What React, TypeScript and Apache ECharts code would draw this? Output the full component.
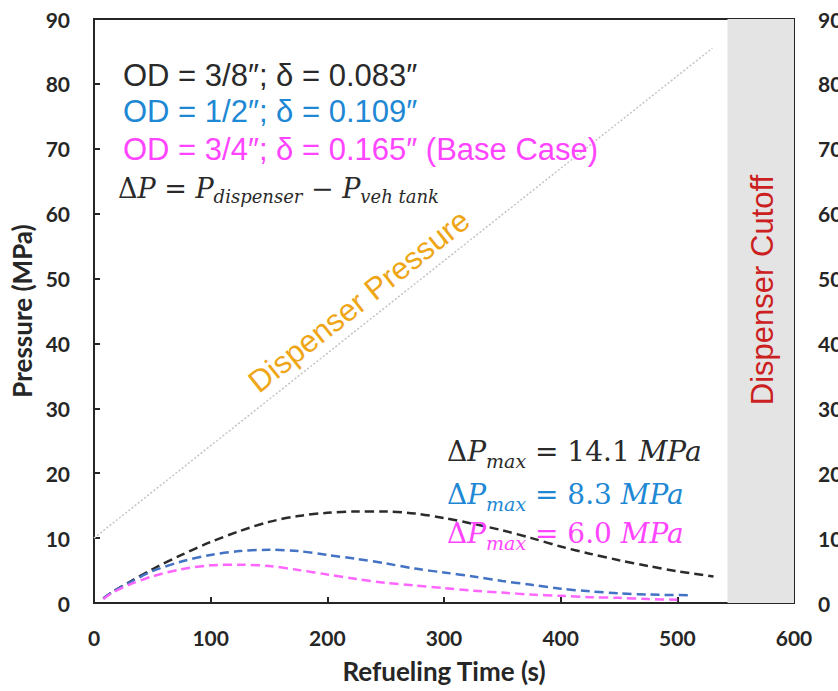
import React, { useEffect, useRef } from "react";
import * as echarts from "echarts";

// ---- data ----
const xTicks = [0, 100, 200, 300, 400, 500, 600];
const yTicks = [0, 10, 20, 30, 40, 50, 60, 70, 80, 90];

const dispenserX = [0, 530];
const dispenserY = [10.0, 85.5];

const od38X = [8, 15, 30, 50, 75, 100, 125, 150, 175, 200, 225, 250, 275, 300, 325, 350, 375, 400, 425, 450, 475, 500, 531];
const od38Y = [0.7, 1.6, 3.2, 5.2, 7.4, 9.4, 11.1, 12.5, 13.4, 13.9, 14.1, 14.1, 13.8, 13.1, 12.2, 11.2, 10.0, 8.7, 7.6, 6.6, 5.7, 4.9, 4.1];

const od12X = [8, 15, 30, 50, 75, 100, 125, 150, 175, 200, 225, 250, 275, 300, 325, 350, 375, 400, 425, 450, 475, 511];
const od12Y = [0.7, 1.6, 3.1, 4.9, 6.4, 7.4, 8.0, 8.2, 8.0, 7.4, 6.8, 6.1, 5.3, 4.7, 4.1, 3.4, 2.8, 2.2, 1.8, 1.5, 1.3, 1.2];

const od34X = [8, 15, 30, 50, 75, 100, 125, 150, 175, 200, 225, 250, 275, 300, 325, 350, 375, 400, 425, 450, 475, 500];
const od34Y = [0.6, 1.5, 2.8, 4.1, 5.2, 5.8, 5.9, 5.7, 5.1, 4.4, 3.7, 3.1, 2.7, 2.3, 1.9, 1.6, 1.3, 1.1, 0.9, 0.8, 0.6, 0.5];

const cutoffStart = 543;
const cutoffEnd = 600;

const legendLines = [
  "OD = 3/8\u2033; \u03B4 = 0.083\u2033",
  "OD = 1/2\u2033; \u03B4 = 0.109\u2033",
  "OD = 3/4\u2033; \u03B4 = 0.165\u2033 (Base Case)",
];
const maxValues = ["14.1", "8.3", "6.0"];

const BLACK = "#2a2a2a";
const BLUE_TXT = "#1e88d4";
const PINK_TXT = "#ff45ff";
const BLUE_LINE = "#4472c4";
const PINK_LINE = "#ff66ff";

const zip = (xs: number[], ys: number[]) => xs.map((x, i) => [x, ys[i]]);

export default function App() {
  const ref = useRef<HTMLDivElement>(null);
  useEffect(() => {
    if (!ref.current) return;
    const chart = echarts.init(ref.current, null, { renderer: "svg" });
    const tickFont = { fontFamily: "Lato", fontWeight: "bold" as const, fontSize: 21, color: "#262626" };
    const titleFont = { fontFamily: "Lato", fontWeight: "bold" as const, fontSize: 26, color: "#262626" };
    const serif = "DejaVu Serif";
    const mathRich = (color: string, size: number, sub: number, pad: number) => ({
      r: { fontFamily: serif, fontSize: size, fill: color, verticalAlign: "middle" },
      i: { fontFamily: serif, fontStyle: "italic", fontSize: size, fill: color, verticalAlign: "middle" },
      s: { fontFamily: serif, fontStyle: "italic", fontSize: sub, fill: color, verticalAlign: "middle", padding: [pad, 0, 0, 0] },
    });
    const legendColors = [BLACK, BLUE_TXT, PINK_TXT];
    const legendY = [75, 111, 149];
    const maxY = [451, 494, 533];

    chart.setOption({
      animation: false,
      grid: {
        left: 94,
        right: 44,
        top: 19,
        bottom: 88,
        containLabel: false,
        outerBoundsMode: "none",
        show: true,
        borderColor: "#262626",
        borderWidth: 2,
        backgroundColor: "transparent",
      },
      xAxis: {
        type: "value",
        min: 0,
        max: 600,
        interval: 100,
        axisLine: { lineStyle: { color: "#262626", width: 2 } },
        axisTick: { inside: true, length: 6, lineStyle: { color: "#262626", width: 2 } },
        axisLabel: { ...tickFont, margin: 24, formatter: (v: number) => (xTicks.includes(v) ? String(v) : "") },
        splitLine: { show: false },
        name: "Refueling Time (s)",
        nameLocation: "middle",
        nameGap: 55,
        nameTextStyle: titleFont,
      },
      yAxis: [
        {
          type: "value",
          min: 0,
          max: 90,
          interval: 10,
          position: "left",
          axisLine: { show: true, lineStyle: { color: "#262626", width: 2 } },
          axisTick: { show: true, inside: true, length: 6, lineStyle: { color: "#262626", width: 2 } },
          axisLabel: { ...tickFont, margin: 24, formatter: (v: number) => (yTicks.includes(v) ? String(v) : "") },
          splitLine: { show: false },
          name: "Pressure (MPa)",
          nameLocation: "middle",
          nameGap: 58,
          nameTextStyle: titleFont,
        },
        {
          type: "value",
          min: 0,
          max: 90,
          interval: 10,
          position: "right",
          axisLine: { show: true, lineStyle: { color: "#262626", width: 2 } },
          axisTick: { show: true, inside: true, length: 6, lineStyle: { color: "#262626", width: 2 } },
          axisLabel: { ...tickFont, margin: 24, formatter: (v: number) => (yTicks.includes(v) ? String(v) : "") },
          splitLine: { show: false },
        },
      ],
      series: [
        {
          type: "line",
          data: [],
          z: 1,
          markArea: {
            silent: true,
            itemStyle: { color: "#e4e4e4" },
            data: [[{ xAxis: cutoffStart }, { xAxis: cutoffEnd }]],
          },
        },
        {
          name: "Dispenser Pressure",
          type: "line",
          data: zip(dispenserX, dispenserY),
          showSymbol: false,
          lineStyle: { color: "#c4c4c4", width: 1.5, type: [2, 2] },
          z: 2,
        },
        {
          name: "OD 3/8",
          type: "line",
          data: zip(od38X, od38Y),
          showSymbol: false,
          smooth: 0.3,
          lineStyle: { color: "#2b2b2b", width: 2.5, type: [9, 5] },
          z: 3,
        },
        {
          name: "OD 1/2",
          type: "line",
          data: zip(od12X, od12Y),
          showSymbol: false,
          smooth: 0.3,
          lineStyle: { color: BLUE_LINE, width: 2.5, type: [9, 5] },
          z: 3,
        },
        {
          name: "OD 3/4",
          type: "line",
          data: zip(od34X, od34Y),
          showSymbol: false,
          smooth: 0.3,
          lineStyle: { color: PINK_LINE, width: 2.5, type: [9, 5] },
          z: 3,
        },
      ],
      graphic: [
        ...legendLines.map((t, i) => ({
          type: "text",
          x: 123,
          y: legendY[i],
          z: 10,
          style: { text: t, fontFamily: "Liberation Sans", fontSize: 31, fill: legendColors[i], align: "left", verticalAlign: "middle" },
        })),
        {
          type: "text",
          x: 118,
          y: 188,
          z: 10,
          style: {
            text: "{r|\u0394}{i|P}{r| = }{i|P}{s|dispenser}{r| \u2212 }{i|P}{s|veh tank}",
            rich: mathRich(BLACK, 27, 18, 17),
            align: "left",
            verticalAlign: "middle",
          },
        },
        ...maxValues.map((v, i) => ({
          type: "text",
          x: 447,
          y: maxY[i],
          z: 10,
          style: {
            text: `{r|\u0394}{i|P}{s|max}{r| = ${v} }{i|MPa}`,
            rich: mathRich(legendColors[i], 28, 19, 19),
            align: "left",
            verticalAlign: "middle",
          },
        })),
        {
          type: "text",
          x: 359,
          y: 301,
          rotation: (38.5 * Math.PI) / 180,
          z: 10,
          style: { text: "Dispenser Pressure", fontFamily: "Liberation Sans", fontSize: 31, fill: "#eea616", align: "center", verticalAlign: "middle" },
        },
        {
          type: "text",
          x: 762,
          y: 290,
          rotation: Math.PI / 2,
          z: 10,
          style: { text: "Dispenser Cutoff", fontFamily: "Liberation Sans", fontSize: 31, fill: "#cc1f1f", align: "center", verticalAlign: "middle" },
        },
      ],
    });
    return () => chart.dispose();
  }, []);
  return <div ref={ref} style={{ position: "absolute", left: 0, top: 0, width: 838, height: 691 }} />;
}
